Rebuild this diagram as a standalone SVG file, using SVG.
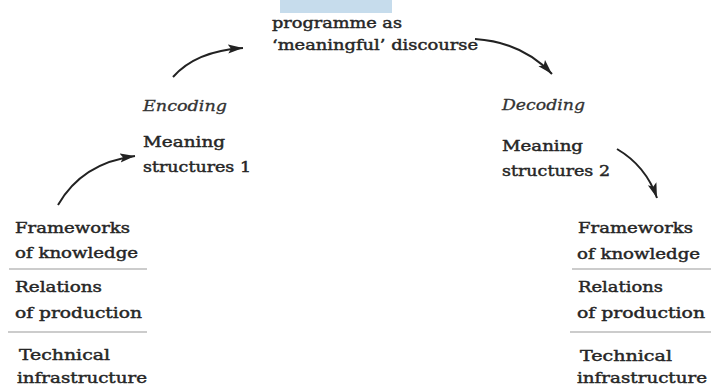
<svg xmlns="http://www.w3.org/2000/svg" width="711" height="387" viewBox="0 0 711 387">
<style>
  text { font-family: "DejaVu Serif", "Liberation Serif", serif; font-size: 15px; font-weight: normal; fill: #262626; stroke: #262626; stroke-width: 0.45px; }
  .it { font-style: italic; stroke-width: 0.3px; fill: #333; stroke: #333; }
  .sep { stroke: #9a9a9a; stroke-width: 1.2; }
  .conn { fill: none; stroke: #222; stroke-width: 2; marker-end: url(#ah); }
</style>
<defs>
  <marker id="ah" markerUnits="userSpaceOnUse" markerWidth="18" markerHeight="12" refX="15" refY="5" orient="auto">
    <path d="M0,0.5 L15,5 L0,9.5 L3,5 Z" fill="#222"/>
  </marker>
</defs>
<rect width="711" height="387" fill="#ffffff"/>
<rect id="topbox" x="280" y="0" width="112" height="13" fill="#c6dcec"/>

<g id="programme">
  <text x="272" y="28" textLength="130" lengthAdjust="spacingAndGlyphs">programme as</text>
  <text x="272" y="50" textLength="206" lengthAdjust="spacingAndGlyphs">‘meaningful’ discourse</text>
</g>
<g id="encoding">
  <text class="it" x="143" y="111" textLength="84" lengthAdjust="spacingAndGlyphs">Encoding</text>
  <text x="143" y="147" textLength="82" lengthAdjust="spacingAndGlyphs">Meaning</text>
  <text x="143" y="172" textLength="108" lengthAdjust="spacingAndGlyphs">structures 1</text>
</g>
<g id="decoding">
  <text class="it" x="502" y="110" textLength="83" lengthAdjust="spacingAndGlyphs">Decoding</text>
  <text x="502" y="151" textLength="81" lengthAdjust="spacingAndGlyphs">Meaning</text>
  <text x="502" y="176" textLength="108" lengthAdjust="spacingAndGlyphs">structures 2</text>
</g>
<g id="left-stack">
  <text x="15" y="233" textLength="115" lengthAdjust="spacingAndGlyphs">Frameworks</text>
  <text x="15" y="258" textLength="123" lengthAdjust="spacingAndGlyphs">of knowledge</text>
  <line class="sep" x1="9" y1="269" x2="147" y2="269"/>
  <text x="15" y="292" textLength="87" lengthAdjust="spacingAndGlyphs">Relations</text>
  <text x="15" y="318" textLength="127" lengthAdjust="spacingAndGlyphs">of production</text>
  <line class="sep" x1="8" y1="332" x2="147" y2="332"/>
  <text x="19" y="360" textLength="91" lengthAdjust="spacingAndGlyphs">Technical</text>
  <text x="17" y="383" textLength="130" lengthAdjust="spacingAndGlyphs">infrastructure</text>
</g>
<g id="right-stack">
  <text x="578" y="233" textLength="115" lengthAdjust="spacingAndGlyphs">Frameworks</text>
  <text x="577" y="259" textLength="123" lengthAdjust="spacingAndGlyphs">of knowledge</text>
  <line class="sep" x1="572" y1="269" x2="711" y2="269"/>
  <text x="578" y="292" textLength="85" lengthAdjust="spacingAndGlyphs">Relations</text>
  <text x="577" y="318" textLength="128" lengthAdjust="spacingAndGlyphs">of production</text>
  <line class="sep" x1="570" y1="332" x2="711" y2="332"/>
  <text x="580" y="361" textLength="92" lengthAdjust="spacingAndGlyphs">Technical</text>
  <text x="577" y="383" textLength="130" lengthAdjust="spacingAndGlyphs">infrastructure</text>
</g>
<g id="connectors">
  <path class="conn" d="M58,205 Q82,163 135,156"/>
  <path class="conn" d="M173,77 Q196,51 243,48"/>
  <path class="conn" d="M475,39 Q522,42 552,74"/>
  <path class="conn" d="M617,149 Q646,166 657,198"/>
</g>
</svg>
